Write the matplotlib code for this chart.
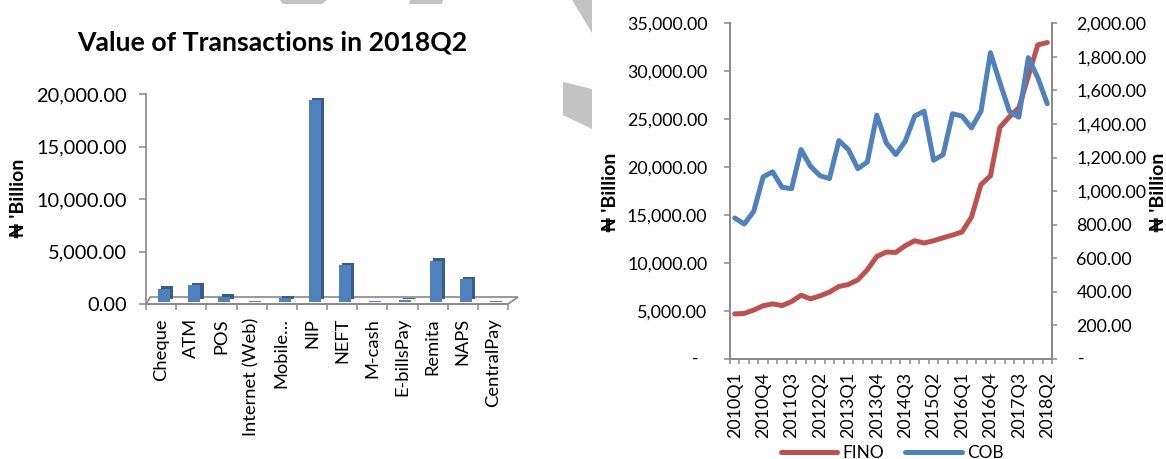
import matplotlib
matplotlib.use("Agg")
import matplotlib.pyplot as plt
import matplotlib.transforms as mtransforms
from matplotlib.patches import Polygon
from matplotlib.ticker import FuncFormatter
import numpy as np

plt.rcParams['font.family'] = ['Lato', 'DejaVu Sans']

# left chart: value of transactions by channel, 2018Q2 (N' billion)
channels = ["Cheque", "ATM", "POS", "Internet (Web)", "Mobile…", "NIP", "NEFT",
            "M-cash", "E-billsPay", "Remita", "NAPS", "CentralPay"]
channel_values = [1250, 1550, 480, 80, 330, 19200, 3500, 30, 150, 3900, 2150, 30]

# right chart: quarterly FINO (left axis) and COB (right axis)
quarters = [f"{y}Q{q}" for y in range(2010, 2019) for q in range(1, 5)][:34]
fino = [4700, 4750, 5100, 5550, 5750, 5570, 5990, 6650, 6270, 6580,
        6970, 7560, 7770, 8250, 9300, 10690, 11150, 11110, 11810, 12330,
        12090, 12330, 12640, 12920, 13250, 14800, 18180, 19100, 24150, 25250,
        26190, 29500, 32750, 33000]
cob = [840, 804, 879, 1085, 1115, 1023, 1015, 1248, 1148, 1092,
       1075, 1301, 1248, 1134, 1174, 1453, 1288, 1218, 1297, 1447,
       1476, 1184, 1218, 1461, 1447, 1377, 1476, 1825, 1646, 1476,
       1441, 1795, 1676, 1521]

AXIS = '#898989'
W, H = 1166, 459
px = 1 / 100

fig = plt.figure(figsize=(W / 100, H / 100), dpi=100)

# grey watermark fragments
for shape in [[(280, 0), (327, 0), (322, 4), (283, 4)],
              [(410, 0), (443, 0), (442, 4), (409, 4)],
              [(572, 0), (592, 0), (592, 33)],
              [(563, 82), (592, 89), (592, 129), (563, 115)]]:
    fig.patches.append(Polygon([(a / W, 1 - b / H) for a, b in shape], closed=True,
                               transform=fig.transFigure, facecolor='#C3C3C3',
                               edgecolor='none', zorder=0))

# ---------------- left: 3D-looking bar chart ----------------
ax1 = fig.add_axes([146 / W, 1 - 304 / H, 362 / W, 210 / H])
x = np.arange(len(channels))
front = ax1.transData + mtransforms.ScaledTranslation(3 * px, 2.3 * px, fig.dpi_scale_trans)
side = ax1.transData + mtransforms.ScaledTranslation(6.3 * px, 4.6 * px, fig.dpi_scale_trans)
ax1.bar(x, channel_values, width=0.4, color='#385D8A', transform=side, zorder=3, clip_on=False)
ax1.bar(x, channel_values, width=0.4, color='#4F81BD', transform=front, zorder=4, clip_on=False)

floor = Polygon([(0, 0), (1, 0), (1 + 10 / 362, 7 / 210), (4.3 / 362, 7 / 210)], closed=True,
                transform=ax1.transAxes, facecolor='white', edgecolor=AXIS, lw=1.2,
                clip_on=False, zorder=2)
ax1.add_patch(floor)

ax1.set_xlim(-0.5, len(channels) - 0.5)
ax1.set_ylim(0, 20000)
ax1.set_yticks(np.arange(0, 20001, 5000))
ax1.yaxis.set_major_formatter(FuncFormatter(lambda v, p: f"{v:,.2f}"))
ax1.set_xticks(x)
ax1.set_xticklabels(channels, rotation=90)
ax1.set_xticks(np.arange(-0.5, len(channels), 1), minor=True)
ax1.tick_params(axis='y', direction='out', length=5, width=1.1, color=AXIS, pad=8.6, labelsize=14.4)
ax1.tick_params(axis='x', which='major', length=0, pad=10, labelsize=13.2)
ax1.tick_params(axis='x', which='minor', direction='out', length=4.3, width=1.1, color=AXIS)
for s in ['top', 'right']:
    ax1.spines[s].set_visible(False)
for s in ['left', 'bottom']:
    ax1.spines[s].set_color(AXIS)
    ax1.spines[s].set_linewidth(1.2)
ax1.patch.set_visible(False)

fig.text(272 / W, 1 - 50 / H, "Value of Transactions in 2018Q2", ha='center', va='baseline',
         fontsize=19.2, fontweight='bold')
fig.text(19 / W, 1 - 198 / H, "₦ 'Billion", rotation=90, ha='center', va='center',
         fontsize=14, fontweight='bold')

# ---------------- right: dual-axis line chart ----------------
ax2 = fig.add_axes([730 / W, 1 - 359 / H, 322 / W, 335.7 / H])
t = np.arange(len(quarters))
l1, = ax2.plot(t, fino, color='#C0504D', lw=3.6, solid_joinstyle='round',
               solid_capstyle='round', label='FINO')
ax3 = ax2.twinx()
l2, = ax3.plot(t, cob, color='#4F81BD', lw=3.6, solid_joinstyle='round',
               solid_capstyle='round', label='COB')

ax2.set_xlim(-0.5, len(quarters) - 0.5)
ax2.set_ylim(0, 35000)
ax3.set_ylim(0, 2000)
ax2.set_yticks(np.arange(0, 35001, 5000))
ax3.set_yticks(np.arange(0, 2001, 200))
fmt = FuncFormatter(lambda v, p: "" if v == 0 else f"{v:,.2f}")
ax2.yaxis.set_major_formatter(fmt)
ax3.yaxis.set_major_formatter(fmt)
ax2.set_xticks(t[::3])
ax2.set_xticklabels(quarters[::3], rotation=90)
ax2.set_xticks(np.arange(-0.5, len(quarters), 1), minor=True)
ax2.tick_params(axis='x', which='major', length=0, pad=9.4, labelsize=12.9)
ax2.tick_params(axis='x', which='minor', direction='out', length=3.6, width=1.1, color=AXIS)
ax2.tick_params(axis='y', direction='out', length=4.3, width=1.1, color=AXIS, pad=12, labelsize=12.9)
ax3.tick_params(axis='y', direction='out', length=3.6, width=1.1, color=AXIS, pad=14, labelsize=12.9)
ax2.text(-0.108, 0, "-", transform=ax2.get_yaxis_transform(), ha='center', va='center', fontsize=12.9)
ax3.text(1.090, 0, "-", transform=ax3.get_yaxis_transform(), ha='center', va='center', fontsize=12.9)

for a in (ax2, ax3):
    a.spines['top'].set_visible(False)
ax2.spines['right'].set_visible(False)
ax3.spines['left'].set_visible(False)
ax3.spines['bottom'].set_visible(False)
for s in [ax2.spines['left'], ax2.spines['bottom'], ax3.spines['right']]:
    s.set_color(AXIS)
    s.set_linewidth(1.4)

fig.text(610 / W, 1 - 192 / H, "₦ 'Billion", rotation=90, ha='center', va='center',
         fontsize=14, fontweight='bold')
fig.text(1158 / W, 1 - 192 / H, "₦ 'Billion", rotation=90, ha='center', va='center',
         fontsize=14, fontweight='bold')

fig.legend([l1, l2], ['FINO', 'COB'], loc='center', bbox_to_anchor=(892 / W, 1 - 453 / H),
           ncol=2, frameon=False, fontsize=12.4, handlelength=3.3, handletextpad=0.3,
           columnspacing=1.2)

fig.savefig('out.png', dpi=100)
